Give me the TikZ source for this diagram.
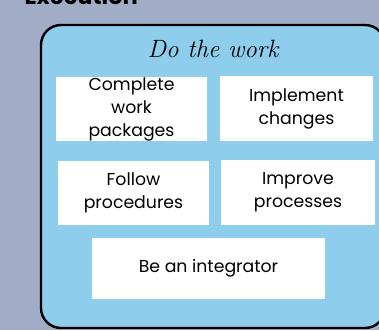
\documentclass[tikz,border=0pt]{standalone}
\usepackage{fontspec}
\newfontfamily\bodyfont{Poppins}
\definecolor{pagebg}{HTML}{A1ADC6}
\definecolor{workblue}{HTML}{8ECDEB}
\tikzset{
  task/.style={fill=white, inner sep=0pt, align=center,
    font=\bodyfont\fontsize{17.3}{23}\selectfont},
  frame/.style={draw=black, line width=2.4pt, fill=workblue, rounded corners=20pt}
}
\begin{document}
\begin{tikzpicture}[x=1pt,y=1pt]
                \clip (0,0) rectangle (379,330);
                \fill[pagebg] (0,0) rectangle (379,330);

                \node[anchor=base west, font=\bodyfont\bfseries\fontsize{22.5}{26}\selectfont] (phase) at (21,325) {Execution};

                \node[frame, minimum width=344pt, minimum height=303pt] (work) at (213,153.5) {};
                \node[font=\itshape\fontsize{25}{28}\selectfont] (head) at (213,281) {Do the work};

                \node[task, minimum width=151pt, minimum height=64pt] (pack) at (131.5,221) {Complete\\work\\packages};
                \node[task, minimum width=153pt, minimum height=65pt] (change) at (296.5,221.5) {Implement\\changes};
                \node[task, minimum width=151pt, minimum height=64pt] (follow) at (133.5,137) {Follow\\procedures};
                \node[task, minimum width=154pt, minimum height=65pt] (improve) at (298,137.5) {Improve\\processes};
                \node[task, minimum width=233pt, minimum height=61pt] (integ) at (208.5,61.5) {Be an integrator};

            \end{tikzpicture}
\end{document}
